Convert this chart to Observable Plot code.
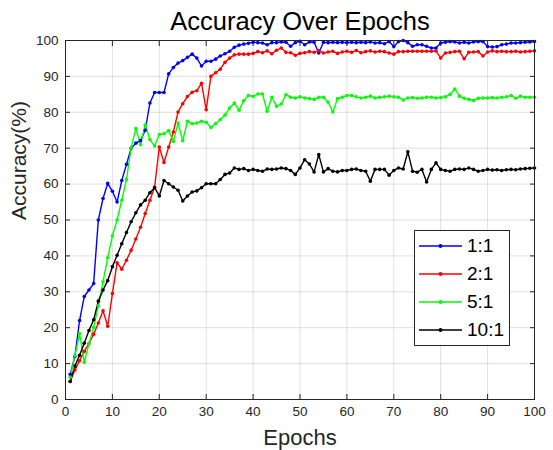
<!DOCTYPE html>
<html>
<head>
<meta charset="utf-8">
<script src="https://cdn.jsdelivr.net/npm/d3@7"></script>
<script src="https://cdn.jsdelivr.net/npm/@observablehq/plot@0.6"></script>
<style>
  html, body { margin: 0; padding: 0; background: #fff; }
  #wrap { position: relative; width: 553px; height: 450px; font-family: "Liberation Sans", Arial, sans-serif; }
  #legend { position: absolute; left: 414px; top: 230px; width: 96px; height: 116px; border: 1px solid #262626; background: #fff; box-sizing: border-box; }
  .row { position: absolute; left: 0; height: 28px; display: flex; align-items: center; }
  .row span { font-size: 19px; color: #000; margin-left: 2px; }
</style>
</head>
<body>
<div id="wrap"><div id="legend"></div></div>
<script>
const seriesNames = ["1:1", "2:1", "5:1", "10:1"];
const seriesColors = ["#0000ff", "#ff0000", "#00ff00", "#000000"];
const epochs = d3.range(1, 101);
const xTicks = [0, 10, 20, 30, 40, 50, 60, 70, 80, 90, 100];
const yTicks = [0, 10, 20, 30, 40, 50, 60, 70, 80, 90, 100];

const acc1 = [7, 12, 22, 28.7, 30.5, 32.3, 50, 56, 60.2, 58,
  55, 61, 65.5, 70, 71.4, 72.1, 75, 82.6, 85.5, 85.5,
  85.5, 90.7, 92.5, 93.7, 94.4, 95.3, 96.2, 95.1, 92.9, 94.2,
  94.2, 94.8, 95.7, 96.3, 97, 98.1, 98.7, 99.0, 99.2, 99.5,
  99.4, 99.3, 98.8, 99.4, 99.4, 99.6, 99.5, 98.4, 99.4, 99.8,
  98.8, 99.6, 99.5, 96.5, 99.5, 99.4, 99.5, 99.4, 99.5, 99.4,
  99.5, 99.4, 99.5, 99.4, 99.6, 99.3, 99.4, 99.1, 99.7, 98.3,
  99.7, 100, 99.4, 98.4, 98.8, 98.8, 98.4, 97.9, 97.9, 99.3,
  99.5, 99.7, 99.6, 99.3, 99.5, 99.3, 99.6, 99.7, 99.7, 98.3,
  98.2, 98.3, 98.8, 99, 99.3, 99.3, 99.4, 99.5, 99.6, 99.7];

const acc2 = [5, 8.2, 10.8, 13.4, 15.6, 18.2, 21.3, 24.7, 20.4, 29.5,
  38.1, 36.3, 38.8, 41.6, 44.7, 48, 51.8, 55.5, 59.2, 70.3,
  66, 70.3, 74.5, 80.1, 82.4, 84.4, 85.6, 86, 88.1, 80.7,
  90, 91, 92, 93.9, 95.1, 96.0, 96.2, 96.2, 96.2, 96.4,
  96.9, 96.6, 97.1, 96.3, 97.3, 97.9, 96.7, 96.6, 95.9, 96.4,
  96.6, 96.9, 96.7, 97.2, 96.5, 96.8, 97, 96.4, 96.8, 97,
  96.7, 97.2, 96.6, 96.9, 97.1, 96.8, 97, 96.9, 96.5, 96.2,
  96.9, 96.9, 97, 97, 97, 97, 97, 97, 97.1, 95.1,
  96.5, 96.7, 96.9, 97, 94.9, 96.7, 96.8, 96.9, 95.7, 96.8,
  97.1, 96.9, 97, 96.9, 96.9, 97, 96.8, 96.9, 97, 97.1];

const acc5 = [6.2, 12.2, 18.4, 10.4, 15.5, 20.1, 26.1, 32.8, 39.5, 45.6,
  50, 55.5, 61.3, 70.1, 75.5, 71, 76.5, 72.4, 70.6, 73.8,
  74, 74.9, 71.9, 77, 72.1, 77.5, 76.8, 77, 77.5, 77.2,
  75.8, 76.8, 78, 79.2, 81.2, 82.6, 80.6, 83.2, 84.7, 84.4,
  85.1, 85.1, 80.3, 84.2, 81.7, 82.3, 84.9, 84.2, 84, 84.3,
  84, 83.8, 83.6, 84.2, 84.2, 82.8, 80.1, 83.8, 84.2, 84.7,
  84.7, 84.3, 84, 84.2, 84.5, 84, 84.2, 84.3, 84.5, 84.3,
  84.2, 83.4, 84, 84.1, 83.9, 84, 84.2, 84.2, 84, 84.1,
  84.3, 85, 86.5, 84.5, 83.9, 83.6, 83.3, 83.9, 84, 84,
  84.1, 84, 84.2, 84.3, 84.7, 83.9, 84.5, 84.2, 84.2, 84.2];

const acc10 = [5, 9.3, 12.3, 15.7, 19.2, 22.2, 27.4, 30.5, 33.1, 37,
  40.2, 43.4, 46.5, 49.5, 52, 54.2, 55.5, 57.6, 59, 56.7,
  61, 60.1, 59.2, 58.3, 55.3, 56.7, 57.8, 58.1, 59, 60.1,
  60.1, 60.1, 61.3, 62.7, 63.1, 64.5, 64.1, 64.3, 63.8, 64.1,
  63.8, 63.6, 64.2, 64.1, 64.2, 64.5, 64.3, 63.8, 62.7, 64.5,
  66.8, 65.6, 63.4, 68.2, 63.4, 64.3, 63.6, 63.4, 63.8, 63.8,
  64.1, 64.2, 63.8, 63.6, 60.8, 64.1, 64.1, 64.1, 62.5, 63.8,
  64.5, 64.2, 69, 63.6, 63.3, 64.1, 60.6, 64.1, 65.9, 64.1,
  63.8, 63.6, 64.1, 64.2, 64.1, 64.5, 64.1, 63.6, 63.8, 64.1,
  63.9, 64, 63.8, 64, 64.1, 64, 64.2, 64.3, 64.4, 64.5];

const allSeries = [acc1, acc2, acc5, acc10];
const data = [];
allSeries.forEach((arr, i) => arr.forEach((v, j) => data.push({series: seriesNames[i], epoch: epochs[j], value: v})));

const axisColor = "#262626";
const chart = Plot.plot({
  width: 553,
  height: 450,
  marginTop: 40,
  marginRight: 19,
  marginBottom: 51,
  marginLeft: 65,
  style: {fontFamily: "Liberation Sans, Arial, sans-serif", background: "#fff", color: axisColor},
  x: {domain: [0, 100]},
  y: {domain: [0, 100]},
  color: {domain: seriesNames, range: seriesColors},
  marks: [
    Plot.gridX(xTicks, {stroke: "#000", strokeOpacity: 0.12}),
    Plot.gridY(yTicks, {stroke: "#000", strokeOpacity: 0.12}),
    Plot.axisX(xTicks, {anchor: "bottom", tickSize: 0, tickPadding: 7, fontSize: 13.5, label: null, fill: axisColor}),
    Plot.axisY(yTicks, {anchor: "left", tickSize: 0, tickPadding: 7, fontSize: 13.5, label: null, fill: axisColor}),
    Plot.axisX(xTicks, {anchor: "bottom", tickSize: -5, tickFormat: () => "", label: null, stroke: axisColor}),
    Plot.axisX(xTicks, {anchor: "top", tickSize: -5, tickFormat: () => "", label: null, stroke: axisColor}),
    Plot.axisY(yTicks, {anchor: "left", tickSize: -5, tickFormat: () => "", label: null, stroke: axisColor}),
    Plot.axisY(yTicks, {anchor: "right", tickSize: -5, tickFormat: () => "", label: null, stroke: axisColor}),
    Plot.line(data, {x: "epoch", y: "value", z: "series", stroke: "series", strokeWidth: 1.4}),
    Plot.dot(data, {x: "epoch", y: "value", fill: "series", r: 1.8}),
    Plot.frame({stroke: axisColor}),
    Plot.text(["Accuracy Over Epochs"], {frameAnchor: "top", dy: -29, fontSize: 25.5, fill: "#000"}),
    Plot.text(["Epochs"], {frameAnchor: "bottom", dy: 45, fontSize: 22, fill: axisColor}),
    Plot.text(["Accuracy(%)"], {frameAnchor: "left", dx: -46, rotate: -90, fontSize: 21, fill: axisColor})
  ]
});
document.getElementById("wrap").prepend(chart);

const legend = d3.select("#legend");
seriesNames.forEach((name, i) => {
  const row = legend.append("div").attr("class", "row").style("top", (i * 28 + 1) + "px");
  const svg = row.append("svg").attr("width", 50).attr("height", 20);
  svg.append("line").attr("x1", 4).attr("x2", 47).attr("y1", 10).attr("y2", 10)
    .attr("stroke", seriesColors[i]).attr("stroke-width", 1.4);
  svg.append("circle").attr("cx", 25.5).attr("cy", 10).attr("r", 2).attr("fill", seriesColors[i]);
  row.append("span").text(name);
});
</script>
</body>
</html>
